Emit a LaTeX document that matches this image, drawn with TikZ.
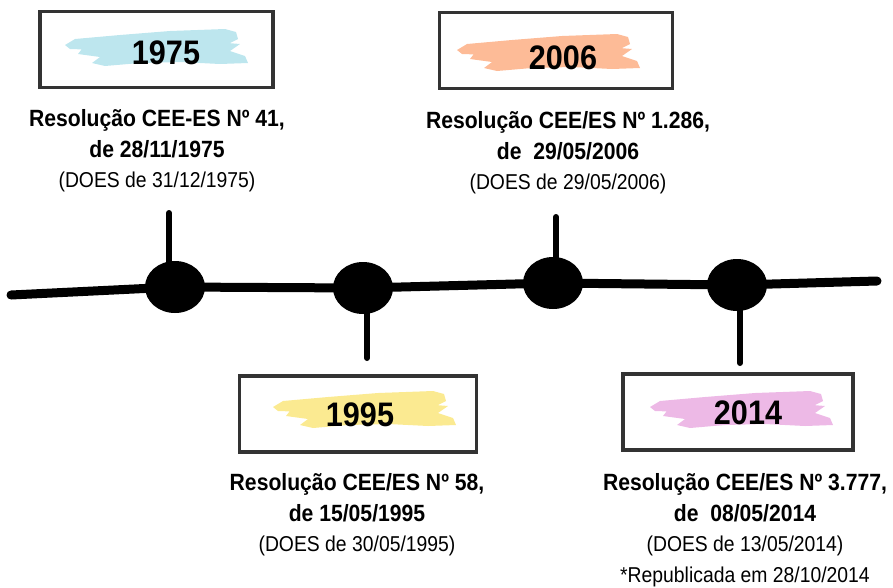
\documentclass[tikz,border=0pt]{standalone}
\usepackage{fontspec}
\setmainfont{Liberation Sans}[FakeStretch=0.9]
\usetikzlibrary{shapes.geometric}
\definecolor{boxgray}{HTML}{333333}
\definecolor{brushcyan}{HTML}{BDE6EE}
\definecolor{brushpeach}{HTML}{FDBB97}
\definecolor{brushyellow}{HTML}{FBEA91}
\definecolor{brushpink}{HTML}{EDB9E6}
\tikzset{year box/.style={draw=boxgray,line width=3.5pt,minimum width=233pt,minimum height=76pt,inner sep=0pt}}
\tikzset{year text/.style={inner sep=0pt,font=\bfseries\fontsize{34}{34}\selectfont}}
\tikzset{res label/.style={align=center,inner sep=0pt,font=\bfseries\fontsize{23.5}{30.5}\selectfont}}
\tikzset{event dot/.style={ellipse,fill=black,minimum width=60pt,minimum height=52pt,inner sep=0pt}}
\tikzset{stem/.style={line width=6pt,line cap=round}}
\tikzset{timeline/.style={line width=9pt,line cap=round,line join=round}}
\def\doesline#1{\\{\mdseries\fontsize{21.5}{29}\selectfont #1}}
\def\brush#1#2{\fill[#2,shift={#1}] (-95,-6) -- (-85,-12) -- (-40,-16) -- (10,-20) -- (65,-22) -- (76,-19) -- (78,-12) -- (70,-8) -- (30,-6) -- (-20,-3) -- (-60,-1) -- (-90,-2) -- cycle
  (-75,-6) -- (-30,-9) -- (30,-11) -- (80,-7) -- (70,0) -- (85,5) -- (88,12) -- (60,13) -- (20,11) -- (-20,12) -- (-55,15) -- (-68,12) -- (-60,6) -- (-82,3) -- cycle;}

\begin{document}
\begin{tikzpicture}[x=1pt,y=-1pt]
\useasboundingbox (0,0) rectangle (893,587);
% pinceladas
\brush{(160,51)}{brushcyan}
\brush{(552,56)}{brushpeach}
\brush{(368,413)}{brushyellow}
\brush{(745,413)}{brushpink}
% caixas dos anos
\node[year box] (b1975) at (156.5,49.5) {};
\node[year box] (b2006) at (556,50.5) {};
\node[year box,minimum width=237pt] (b1995) at (358,414) {};
\node[year box,minimum width=230pt] (b2014) at (738,412) {};
\node[year text] (y1975) at (166,53) {1975};
\node[year text] (y2006) at (563,58) {2006};
\node[year text] (y1995) at (360,415) {1995};
\node[year text] (y2014) at (748,413) {2014};
% linha do tempo
\coordinate (p1975) at (175,287);
\coordinate (p1995) at (363,288);
\coordinate (p2006) at (553,283);
\coordinate (p2014) at (737,285);
\coordinate (tlL) at (11,295);
\coordinate (tlR) at (877,281);
\coordinate (s1975) at (169,213);
\coordinate (s2006) at (556,217);
\coordinate (s1995) at (367,358);
\coordinate (s2014) at (740,363);
\draw[timeline] (tlL) -- (p1975) -- (p1995) -- (p2006) -- (p2014) -- (tlR);
\draw[stem] (s1975) -- (s1975 |- p1975);
\draw[stem] (s2006) -- (s2006 |- p2006);
\draw[stem] (s1995) -- (s1995 |- p1995);
\draw[stem] (s2014) -- (s2014 |- p2014);
\node[event dot] (d1975) at (p1975) {};
\node[event dot] (d1995) at (p1995) {};
\node[event dot] (d2006) at (p2006) {};
\node[event dot] (d2014) at (p2014) {};
% resoluções
\node[res label] (r1975) at (157,151) {Resolução CEE-ES Nº 41,\\de 28/11/1975\doesline{(DOES de 31/12/1975)}};
\node[res label] (r2006) at (568,153) {Resolução CEE/ES Nº 1.286,\\de~~29/05/2006\doesline{(DOES de 29/05/2006)}};
\node[res label] (r1995) at (357,515) {Resolução CEE/ES Nº 58,\\de 15/05/1995\doesline{(DOES de 30/05/1995)}};
\node[res label] (r2014) at (745,530) {Resolução CEE/ES Nº 3.777,\\de~~08/05/2014\doesline{(DOES de 13/05/2014)}\doesline{*Republicada em 28/10/2014}};
\end{tikzpicture}
\end{document}
